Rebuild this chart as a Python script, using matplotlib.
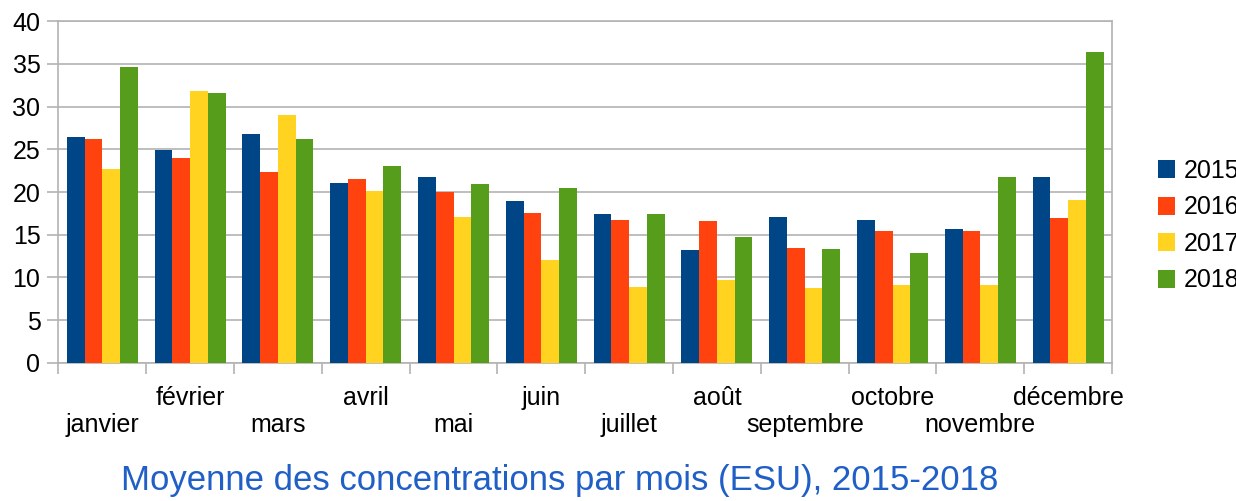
import matplotlib.pyplot as plt
import numpy as np

plt.rcParams['font.family'] = ['Liberation Sans', 'DejaVu Sans']

# Data
mois = ["janvier", "février", "mars", "avril", "mai", "juin", "juillet",
        "août", "septembre", "octobre", "novembre", "décembre"]
annees = ["2015", "2016", "2017", "2018"]
v2015 = [26.4, 24.9, 26.8, 21.05, 21.75, 18.95, 17.4, 13.2, 17.05, 16.7, 15.65, 21.75]
v2016 = [26.2, 24.0, 22.3, 21.5, 20.0, 17.5, 16.7, 16.6, 13.4, 15.4, 15.4, 16.95]
v2017 = [22.7, 31.8, 29.0, 20.1, 17.1, 12.0, 8.9, 9.7, 8.75, 9.1, 9.1, 19.05]
v2018 = [34.6, 31.6, 26.2, 23.0, 20.9, 20.5, 17.4, 14.7, 13.3, 12.85, 21.75, 36.4]
couleurs = ["#004586", "#ff420e", "#ffd320", "#579d1c"]

series = [v2015, v2016, v2017, v2018]

fig = plt.figure(figsize=(12.36, 5.01), dpi=100)
ax = fig.add_axes([0.0473, 0.276, 0.8524, 0.6815])

x = np.arange(len(mois))
w = 0.202
for i, (vals, lab, col) in enumerate(zip(series, annees, couleurs)):
    ax.bar(x + (i - 1.5) * w, vals, width=w, color=col, label=lab, zorder=3)

ax.set_xlim(-0.5, len(mois) - 0.5)
ax.set_ylim(0, 40)
ax.set_yticks(np.arange(0, 41, 5))
ax.yaxis.grid(True, color="#b3b3b3", linewidth=1.2, zorder=0)

# category boundaries as major ticks, labels on minor ticks (two rows)
ax.set_xticks(np.arange(-0.5, len(mois), 1))
ax.set_xticklabels([])
ax.set_xticks(x, minor=True)
ax.set_xticklabels([m if i % 2 == 1 else "\n" + m for i, m in enumerate(mois)],
                   minor=True, fontsize=18, linespacing=1.15)
ax.tick_params(axis="x", which="major", length=8, color="#b3b3b3", width=1.2)
ax.tick_params(axis="x", which="minor", length=0, pad=17)
ax.tick_params(axis="y", length=8, color="#b3b3b3", width=1.2, labelsize=18, pad=5)

for s in ax.spines.values():
    s.set_color("#b3b3b3")
    s.set_linewidth(1.2)

# legend sits partly outside the figure, as in the original
ax.legend(loc="upper left", bbox_to_anchor=(1.044, 0.597), frameon=False,
          fontsize=18, handlelength=0.65, handleheight=0.75, handletextpad=0.35,
          labelspacing=0.5, borderaxespad=0, borderpad=0)

fig.text(0.453, 0.04, "Moyenne des concentrations par mois (ESU), 2015-2018",
         ha="center", va="center", fontsize=25, color="#1f5fc6")

fig.savefig("out.png", dpi=100)
